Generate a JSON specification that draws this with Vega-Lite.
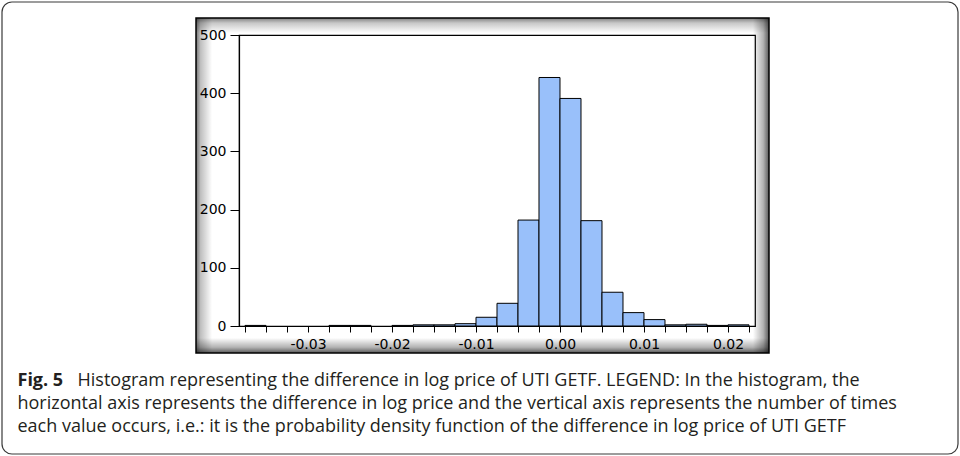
{
  "$schema": "https://vega.github.io/schema/vega-lite/v6.json",
  "width": 516,
  "height": 291,
  "autosize": {"type": "none"},
  "padding": {"left": 239, "top": 35, "right": 205, "bottom": 130},
  "background": "white",
  "config": {"view": {"stroke": "black", "strokeWidth": 1.2}},
  "resolve": {"axis": {"x": "independent", "y": "independent"}},
  "layer": [
    {
      "data": {"values": [{"frame": "outer"}]},
      "mark": {"type": "rect", "fill": "transparent", "stroke": "#3a3a3a", "strokeWidth": 1.2, "cornerRadius": 10},
      "encoding": {
        "x": {"datum": -0.0664286, "type": "quantitative", "scale": {"domain": [-0.0382143, 0.0232143], "nice": false, "zero": false}, "axis": null},
        "x2": {"datum": 0.047381},
        "y": {"datum": 556.7, "type": "quantitative", "scale": {"domain": [0, 500], "nice": false},
              "axis": {"orient": "right", "domain": false, "ticks": false, "labels": false, "grid": false, "zindex": 1,
                       "title": "Fig. 5", "titleAngle": 0, "titleX": -738, "titleY": 350, "titleAlign": "left", "titleBaseline": "alphabetic",
                       "titleFont": "Open Sans", "titleFontSize": 18, "titleFontWeight": "bold", "titleColor": "#231f20"}},
        "y2": {"datum": -219.93}
      }
    },
    {
      "data": {"values": [{"frame": "bevel"}]},
      "mark": {"type": "rect", "stroke": "black", "strokeWidth": 1.5,
               "fill": {"gradient": "linear", "x1": 0, "y1": 0, "x2": 1, "y2": 0,
                        "stops": [{"offset": 0, "color": "rgba(0,0,0,0.55)"}, {"offset": 0.008, "color": "rgba(0,0,0,0.25)"}, {"offset": 0.028, "color": "rgba(0,0,0,0)"},
                                  {"offset": 0.972, "color": "rgba(0,0,0,0)"}, {"offset": 0.99, "color": "rgba(0,0,0,0.3)"}, {"offset": 1, "color": "rgba(0,0,0,0.65)"}]}},
      "encoding": {
        "x": {"datum": -0.0433333, "type": "quantitative", "scale": {"domain": [-0.0382143, 0.0232143], "nice": false, "zero": false}, "axis": null},
        "x2": {"datum": 0.024881},
        "y": {"datum": 529.2, "type": "quantitative", "scale": {"domain": [0, 500], "nice": false}, "axis": null},
        "y2": {"datum": -46.39}
      }
    },
    {
      "data": {"values": [{"frame": "bevel"}]},
      "mark": {"type": "rect",
               "fill": {"gradient": "linear", "x1": 0, "y1": 0, "x2": 0, "y2": 1,
                        "stops": [{"offset": 0, "color": "rgba(0,0,0,0.5)"}, {"offset": 0.015, "color": "rgba(0,0,0,0.22)"}, {"offset": 0.045, "color": "rgba(0,0,0,0)"},
                                  {"offset": 0.955, "color": "rgba(0,0,0,0)"}, {"offset": 0.983, "color": "rgba(0,0,0,0.3)"}, {"offset": 1, "color": "rgba(0,0,0,0.65)"}]}},
      "encoding": {
        "x": {"datum": -0.0433333, "type": "quantitative", "scale": {"domain": [-0.0382143, 0.0232143], "nice": false, "zero": false}, "axis": null},
        "x2": {"datum": 0.024881},
        "y": {"datum": 529.2, "type": "quantitative", "scale": {"domain": [0, 500], "nice": false}, "axis": null},
        "y2": {"datum": -46.39}
      }
    },
    {
      "data": {"values": [
        {"start": -0.0375, "end": -0.035, "count": 1},
        {"start": -0.0275, "end": -0.025, "count": 1},
        {"start": -0.025, "end": -0.0225, "count": 1},
        {"start": -0.02, "end": -0.0175, "count": 1},
        {"start": -0.0175, "end": -0.015, "count": 2},
        {"start": -0.015, "end": -0.0125, "count": 2},
        {"start": -0.0125, "end": -0.01, "count": 4},
        {"start": -0.01, "end": -0.0075, "count": 15},
        {"start": -0.0075, "end": -0.005, "count": 39},
        {"start": -0.005, "end": -0.0025, "count": 182},
        {"start": -0.0025, "end": 0, "count": 427},
        {"start": 0, "end": 0.0025, "count": 391},
        {"start": 0.0025, "end": 0.005, "count": 181},
        {"start": 0.005, "end": 0.0075, "count": 58},
        {"start": 0.0075, "end": 0.01, "count": 23},
        {"start": 0.01, "end": 0.0125, "count": 11},
        {"start": 0.0125, "end": 0.015, "count": 2},
        {"start": 0.015, "end": 0.0175, "count": 3},
        {"start": 0.0175, "end": 0.02, "count": 1},
        {"start": 0.02, "end": 0.0225, "count": 2}
      ]},
      "mark": {"type": "rect", "fill": "#99c0fa", "stroke": "black", "strokeWidth": 1},
      "encoding": {
        "x": {"field": "start", "type": "quantitative",
              "scale": {"domain": [-0.0382143, 0.0232143], "nice": false, "zero": false},
              "axis": {"orient": "bottom", "values": [-0.0375, -0.035, -0.0325, -0.03, -0.0275, -0.025, -0.0225, -0.02, -0.0175, -0.015, -0.0125, -0.01, -0.0075, -0.005, -0.0025, 0, 0.0025, 0.005, 0.0075, 0.01, 0.0125, 0.015, 0.0175, 0.02, 0.0225],
                       "labelExpr": "abs(datum.value*100 - round(datum.value*100)) < 0.001 ? replace(format(datum.value, '.2f'), '\u2212', '-') : ''",
                       "grid": false, "zindex": 1, "domainColor": "black", "domainWidth": 1.2, "tickColor": "black", "tickSize": 6, "tickWidth": 1,
                       "labelColor": "black", "labelFont": "DejaVu Sans", "labelFontSize": 14, "labelPadding": 5, "labelFlush": false, "labelOverlap": false,
                       "title": ["horizontal axis represents the difference in log price and the vertical axis represents the number of times", "each value occurs, i.e.: it is the probability density function of the difference in log price of UTI GETF"],
                       "titleX": -222, "titleY": 82, "titleAngle": 0, "titleAlign": "left", "titleBaseline": "alphabetic", "titleLineHeight": 23.5,
                       "titleFont": "Open Sans", "titleFontSize": 18, "titleFontWeight": "normal", "titleColor": "#231f20"}},
        "x2": {"field": "end"},
        "y": {"field": "count", "type": "quantitative",
              "scale": {"domain": [0, 500], "nice": false},
              "axis": {"orient": "left", "values": [0, 100, 200, 300, 400, 500], "format": "d", "grid": false, "zindex": 1,
                       "domainColor": "black", "domainWidth": 1.2, "tickColor": "black", "tickSize": 9, "tickWidth": 1,
                       "labelColor": "black", "labelFont": "DejaVu Sans", "labelFontSize": 14, "labelPadding": 4,
                       "title": "Histogram representing the difference in log price of UTI GETF. LEGEND: In the histogram, the",
                       "titleX": -162, "titleY": 350, "titleAngle": 0, "titleAlign": "left", "titleBaseline": "alphabetic",
                       "titleFont": "Open Sans", "titleFontSize": 18, "titleFontWeight": "normal", "titleColor": "#231f20"}},
        "y2": {"datum": 0}
      }
    }
  ]
}
